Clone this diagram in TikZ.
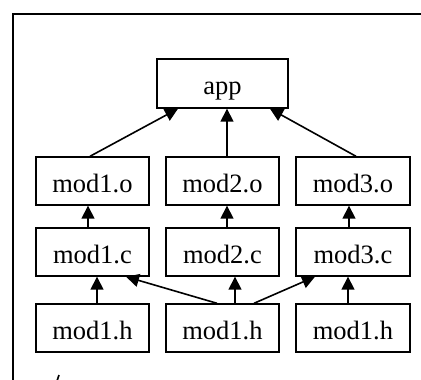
\documentclass[tikz,border=0pt]{standalone}
\usepackage{fontspec}
\setmainfont{Liberation Serif}
\usetikzlibrary{arrows.meta}
\begin{document}
\begin{tikzpicture}[x=1pt,y=-1pt,
  box/.style={draw=black,line width=1.4pt,minimum height=48pt,inner sep=0pt,
    text height=22pt,text depth=0pt,
    font=\fontsize{26.5}{30}\selectfont},
  dep/.style={line width=1.6pt,-{Triangle[length=13pt,width=13pt]}}]
\useasboundingbox (0,0) rectangle (421,380);
\begin{scope}
\clip (0,0) rectangle (421,380);
\draw[line width=2pt] (13,390) -- (13,14) -- (430,14);
\draw[line width=1.6pt] (57,381) -- (59,375);
\end{scope}
\node[box,minimum width=131pt,minimum height=49pt] (app) at (222.5,83.5) {app};
\node[box,minimum width=113pt] (o1) at (92.5,181) {mod1.o};
\node[box,minimum width=113pt] (o2) at (222.5,181) {mod2.o};
\node[box,minimum width=114pt] (o3) at (353,181) {mod3.o};
\node[box,minimum width=113pt] (c1) at (92.5,252) {mod1.c};
\node[box,minimum width=113pt] (c2) at (222.5,252) {mod2.c};
\node[box,minimum width=114pt] (c3) at (353,252) {mod3.c};
\node[box,minimum width=113pt] (h1) at (92.5,328) {mod1.h};
\node[box,minimum width=113pt] (h2) at (222.5,328) {mod1.h};
\node[box,minimum width=114pt] (h3) at (353,328) {mod1.h};
\draw[dep] ([xshift=-2.5pt]o1.north) -- ([xshift=-44.5pt]app.south);
\draw[dep] ([xshift=4.5pt]o2.north) -- ([xshift=4.5pt]app.south);
\draw[dep] ([xshift=3pt]o3.north) -- ([xshift=47.5pt]app.south);
\draw[dep] ([xshift=-4.5pt]c1.north) -- ([xshift=-4.5pt]o1.south);
\draw[dep] ([xshift=4.5pt]c2.north) -- ([xshift=4.5pt]o2.south);
\draw[dep] ([xshift=-4pt]c3.north) -- ([xshift=-4pt]o3.south);
\draw[dep] ([xshift=4.5pt]h1.north) -- ([xshift=4.5pt]c1.south);
\draw[dep] ([xshift=-5.5pt]h2.north) -- ([xshift=33.5pt]c1.south);
\draw[dep] ([xshift=12.5pt]h2.north) -- ([xshift=12.5pt]c2.south);
\draw[dep] ([xshift=31.5pt]h2.north) -- ([xshift=-38pt]c3.south);
\draw[dep] ([xshift=-5pt]h3.north) -- ([xshift=-5pt]c3.south);
\end{tikzpicture}
\end{document}
